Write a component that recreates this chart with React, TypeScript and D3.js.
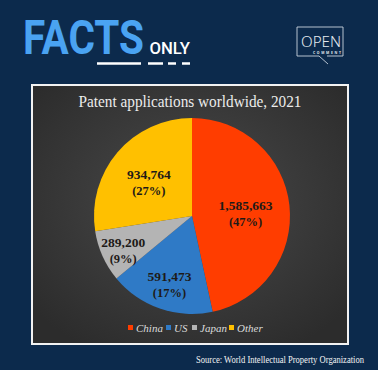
import React from "react";
import { arc, pie, PieArcDatum, sum } from "d3";

// chart values
const countries = ["China", "US", "Japan", "Other"];
const applications = [1585663, 591473, 289200, 934764];
const sliceColors = ["#ff3d00", "#2f7ac6", "#b4b4b4", "#ffc000"];
// how far out each label sits (share of the radius)
const labelDepth = [0.55, 0.7, 0.77, 0.58];

const W = 378;
const H = 370;
const cx = 192;
const cy = 216;
const radius = 98;

const serif = "'Liberation Serif', 'DejaVu Serif', serif";

const App = () => {
  const total = sum(applications);
  const slices = pie<number>().sort(null).value(d => d)(applications);
  const sliceArc = arc<PieArcDatum<number>>().innerRadius(0).outerRadius(radius);

  const legendX = [128, 166, 192, 229];

  return (
    <svg
      width={W}
      height={H}
      style={{ position: "absolute", left: 0, top: 0 }}
      xmlns="http://www.w3.org/2000/svg"
    >
      <defs>
        <radialGradient id="panelBg" cx="50%" cy="45%" r="65%">
          <stop offset="0%" stopColor="#4a4a4a" />
          <stop offset="100%" stopColor="#2c2c2c" />
        </radialGradient>
      </defs>
      <rect width={W} height={H} fill="#0c2a4c" />

      {/* header */}
      <text
        x={23}
        y={53.5}
        fontFamily="Roboto, 'Liberation Sans', sans-serif"
        fontWeight={700}
        fontSize={49}
        fill="#4aa3f2"
        textLength={121}
        lengthAdjust="spacingAndGlyphs"
      >
        FACTS
      </text>
      <text
        x={149.5}
        y={53.5}
        fontFamily="Roboto, 'Liberation Sans', sans-serif"
        fontWeight={500}
        fontSize={17}
        fill="#ffffff"
        textLength={40.5}
        lengthAdjust="spacingAndGlyphs"
      >
        ONLY
      </text>
      <g stroke="#ffffff" strokeWidth={2.5}>
        <line x1={97} x2={141} y1={63.5} y2={63.5} />
        <line x1={148} x2={163} y1={63.5} y2={63.5} />
        <line x1={168} x2={176} y1={63.5} y2={63.5} />
        <line x1={182} x2={190} y1={63.5} y2={63.5} />
      </g>

      {/* open comment logo */}
      <g fill="none" stroke="#c9d3de" strokeWidth={0.9}>
        <path d="M319,56 H297 V27 H343 V56 H327" />
        <path d="M319,56 L328,64" />
      </g>
      <text
        x={301}
        y={46.5}
        fontFamily="'Noto Sans', 'DejaVu Sans', sans-serif"
        fontWeight={300}
        fontSize={14}
        fill="#e4eaf0"
        textLength={40}
        lengthAdjust="spacingAndGlyphs"
      >
        OPEN
      </text>
      <text
        x={313}
        y={53.5}
        fontFamily="'Noto Sans', sans-serif"
        fontWeight={700}
        fontSize={3.4}
        fill="#e4eaf0"
        textLength={28}
        lengthAdjust="spacing"
      >
        COMMENT
      </text>

      {/* panel */}
      <rect
        x={32}
        y={85}
        width={316}
        height={259}
        fill="url(#panelBg)"
        stroke="#f2f2f2"
        strokeWidth={2}
      />
      <text
        x={cx - 2}
        y={107}
        textAnchor="middle"
        fontFamily={serif}
        fontSize={16}
        fill="#ececec"
        textLength={223}
        lengthAdjust="spacingAndGlyphs"
      >
        Patent applications worldwide, 2021
      </text>

      <g transform={`translate(${cx},${cy})`}>
        {slices.map((s, i) => (
          <path key={countries[i]} d={sliceArc(s) || ""} fill={sliceColors[i]} />
        ))}
        {slices.map((s, i) => {
          const mid = (s.startAngle + s.endAngle) / 2;
          const r = radius * labelDepth[i];
          const x = Math.sin(mid) * r;
          const y = -Math.cos(mid) * r;
          const pct = Math.round((s.value / total) * 100);
          return (
            <g key={"l" + i} fontFamily={serif} fontWeight={700} fill="#1e1a18" textAnchor="middle">
              <text x={x} y={y} fontSize={13.5}>
                {s.value.toLocaleString("en-US")}
              </text>
              <text x={x} y={y + 16} fontSize={12.5}>
                {`(${pct}%)`}
              </text>
            </g>
          );
        })}
      </g>

      {/* legend */}
      <g fontFamily={serif} fontStyle="italic" fontSize={11} fill="#dcdcdc">
        {countries.map((c, i) => (
          <g key={"lg" + c} transform={`translate(${legendX[i]},328)`}>
            <rect x={0} y={-3} width={5} height={5} fill={sliceColors[i]} />
            <text x={8} y={3.5}>
              {c}
            </text>
          </g>
        ))}
      </g>

      <text
        x={364}
        y={363}
        textAnchor="end"
        fontFamily={serif}
        fontSize={9.5}
        fill="#f4f4f4"
        textLength={168}
        lengthAdjust="spacingAndGlyphs"
      >
        Source: World Intellectual Property Organization
      </text>
    </svg>
  );
};

export default App;
